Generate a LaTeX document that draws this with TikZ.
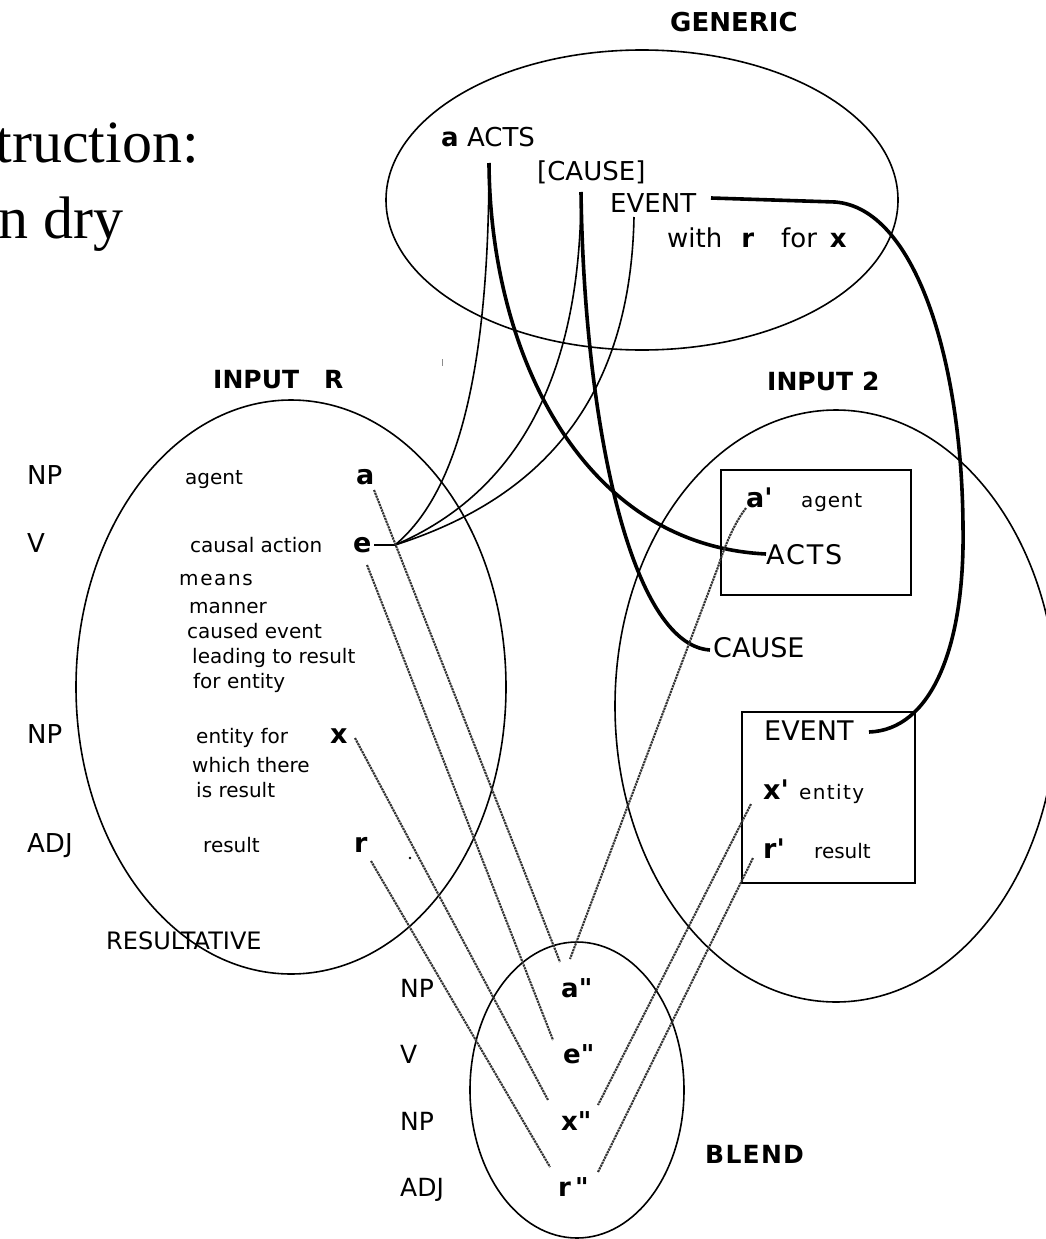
\documentclass[tikz,border=0pt]{standalone}
\usepackage{fontspec}
\setmainfont{DejaVu Sans}
\newfontfamily\titlefont{Liberation Serif}
\usetikzlibrary{shapes.geometric}
\begin{document}
\begin{tikzpicture}[x=1pt,y=-1pt,
  every node/.style={inner sep=0pt, anchor=base west},
  lbl/.style={font=\fontsize{26}{30}\selectfont},
  gen/.style={font=\fontsize{26}{30}\selectfont},
  sml/.style={font=\fontsize{20}{24}\selectfont},
  var/.style={font=\bfseries\fontsize{27}{30}\selectfont},
  head/.style={font=\bfseries\fontsize{25}{30}\selectfont},
  bigtitle/.style={font=\titlefont\fontsize{60}{66}\selectfont, anchor=base east},
  mspace/.style={draw, line width=1.6pt, ellipse, anchor=center},
  boxframe/.style={draw, line width=2.2pt, anchor=north west},
  fineline/.style={line width=1.6pt},
  heavyline/.style={line width=3.6pt},
  dashmap/.style={line width=2.1pt, dash pattern=on 2.2pt off 0.8pt, black!80},
]
\useasboundingbox (0,0) rectangle (1046,1239);

% title fragments
\node[bigtitle] (t1) at (199,162) {truction:};
\node[bigtitle] (t2) at (124,238) {n dry};

% spaces
\node[mspace, minimum width=512pt, minimum height=300pt] (generic) at (642,200) {};
\node[mspace, minimum width=430pt, minimum height=574pt] (inputR) at (291,687) {};
\node[mspace, minimum width=442pt, minimum height=592pt] (input2) at (836,706) {};
\node[mspace, minimum width=214pt, minimum height=296pt] (blend) at (577,1090) {};
\node[boxframe, minimum width=190pt, minimum height=125pt] (box1) at (720,469) {};
\node[boxframe, minimum width=173pt, minimum height=171pt] (box2) at (741,711) {};

% headings
\node[head, font=\bfseries\fontsize{26}{30}\selectfont] (hgen) at (670,32) {GENERIC};
\node[head] (hinr) at (213,388) {INPUT\hspace{25pt}R};
\node[head] (hin2) at (767,390) {INPUT\hspace{9pt}2};
\node[head, font=\bfseries\fontsize{25}{30}\selectfont\addfontfeature{LetterSpace=5}] (hbl) at (705,1163) {BLEND};
\node[font=\fontsize{24}{28}\selectfont] (hres) at (106,949) {RESULTATIVE};

% generic space
\node[gen] (gacts) at (441,146) {\textbf{a} ACTS};
\node[gen] (gcause) at (537,180) {[CAUSE]};
\node[gen] (gevent) at (610,212) {EVENT};
\node[gen] (gwith) at (667,247) {with\hspace{19pt}\textbf{r}\hspace{27pt}for\hspace{13pt}\textbf{x}};

% input R
\node[lbl] (rnp1) at (27,484) {NP};
\node[lbl] (rv) at (27,552) {V};
\node[lbl] (rnp2) at (27,743) {NP};
\node[lbl] (radj) at (27,852) {ADJ};
\node[sml] (ragent) at (185,484) {agent};
\node[sml] (rcausal) at (190,552) {causal action};
\node[sml, font=\fontsize{20}{24}\selectfont\addfontfeature{LetterSpace=8}] (rmeans) at (179,585) {means};
\node[sml] (rmanner) at (189,613) {manner};
\node[sml] (rcaused) at (187,638) {caused event};
\node[sml] (rleading) at (192,663) {leading to result};
\node[sml] (rfor) at (193,688) {for entity};
\node[sml] (rentity) at (196,743) {entity for};
\node[sml] (rwhich) at (192,772) {which there};
\node[sml] (ris) at (196,797) {is result};
\node[sml] (rresult) at (203,852) {result};
\node[var] (ia) at (356,484) {a};
\node[var] (ie) at (353,552) {e};
\node[var] (ix) at (330,743) {x};
\node[var] (ir) at (354,852) {r};
\fill (410,858) circle (1.3pt);
\draw[black!45, line width=0.8pt] (442,359) -- (442,366);

% input 2
\node[var] (a2) at (746,507) {a\textquotesingle};
\node[sml, font=\fontsize{20}{24}\selectfont\addfontfeature{LetterSpace=4}] (agent2) at (801,507) {agent};
\node[lbl, font=\fontsize{27}{30}\selectfont\addfontfeature{LetterSpace=7}] (acts2) at (766,564) {ACTS};
\node[lbl, font=\fontsize{27}{30}\selectfont] (cause2) at (713,657) {CAUSE};
\node[lbl, font=\fontsize{27}{30}\selectfont] (ev2) at (764,740) {EVENT};
\node[var] (x2) at (763,799) {x\textquotesingle};
\node[sml, font=\fontsize{20}{24}\selectfont\addfontfeature{LetterSpace=7}] (entity2) at (799,799) {entity};
\node[var] (r2) at (763,858) {r\textquotesingle};
\node[sml] (result2) at (814,858) {result};

% blend
\node[lbl, font=\fontsize{25}{30}\selectfont] (bnp1) at (400,997) {NP};
\node[lbl, font=\fontsize{25}{30}\selectfont] (bv) at (400,1063) {V};
\node[lbl, font=\fontsize{25}{30}\selectfont] (bnp2) at (400,1130) {NP};
\node[lbl, font=\fontsize{25}{30}\selectfont] (badj) at (400,1196) {ADJ};
\node[var, font=\bfseries\fontsize{26}{30}\selectfont] (ba) at (561,997) {a\textquotedbl};
\node[var, font=\bfseries\fontsize{26}{30}\selectfont] (be) at (563,1063) {e\textquotedbl};
\node[var, font=\bfseries\fontsize{26}{30}\selectfont] (bx) at (561,1130) {x\textquotedbl};
\node[var, font=\bfseries\fontsize{26}{30}\selectfont] (br) at (558,1196) {r\hspace{4pt}\textquotedbl};

% generic -> input 2 (thick)
\draw[heavyline] ([shift={(48,17)}]gacts.base west) .. controls (490,350) and (580,545) .. ([shift={(0,-10)}]acts2.base west);
\draw[heavyline] ([shift={(44,12)}]gcause.base west) .. controls (584,420) and (630,645) .. ([shift={(-3,-7)}]cause2.base west);
\draw[heavyline] ([shift={(101,-14)}]gevent.base west) -- (835,202) .. controls (915,208) and (962,360) .. (963,527) .. controls (965,650) and (930,730) .. ([shift={(105,-8)}]ev2.base west);

% generic -> input R (thin)
\coordinate (ej) at (395,545);
\draw[fineline] ([shift={(21,-7)}]ie.base west) -- (ej);
\draw[fineline] (ej) .. controls (455,495) and (489,380) .. ([shift={(48,17)}]gacts.base west);
\draw[fineline] (ej) .. controls (500,500) and (581,400) .. ([shift={(44,12)}]gcause.base west);
\draw[fineline] (ej) .. controls (520,505) and (630,420) .. ([shift={(24,5)}]gevent.base west);

% mappings into the blend (dashed)
\draw[dashmap] ([shift={(18,6)}]ia.base west) -- ([shift={(-1,-35)}]ba.base west);
\draw[dashmap] ([shift={(14,13)}]ie.base west) -- ([shift={(-10,-23)}]be.base west);
\draw[dashmap] ([shift={(25,-5)}]ix.base west) -- ([shift={(-13,-30)}]bx.base west);
\draw[dashmap] ([shift={(17,9)}]ir.base west) -- ([shift={(-8,-29)}]br.base west);
\draw[dashmap] ([shift={(0,1)}]a2.base west) .. controls (735,522) and (725,545) .. (718,567) -- ([shift={(9,-38)}]ba.base west);
\draw[dashmap] ([shift={(-12,5)}]x2.base west) -- ([shift={(37,-25)}]bx.base west);
\draw[dashmap] ([shift={(-10,0)}]r2.base west) -- ([shift={(40,-24)}]br.base west);
\end{tikzpicture}
\end{document}
